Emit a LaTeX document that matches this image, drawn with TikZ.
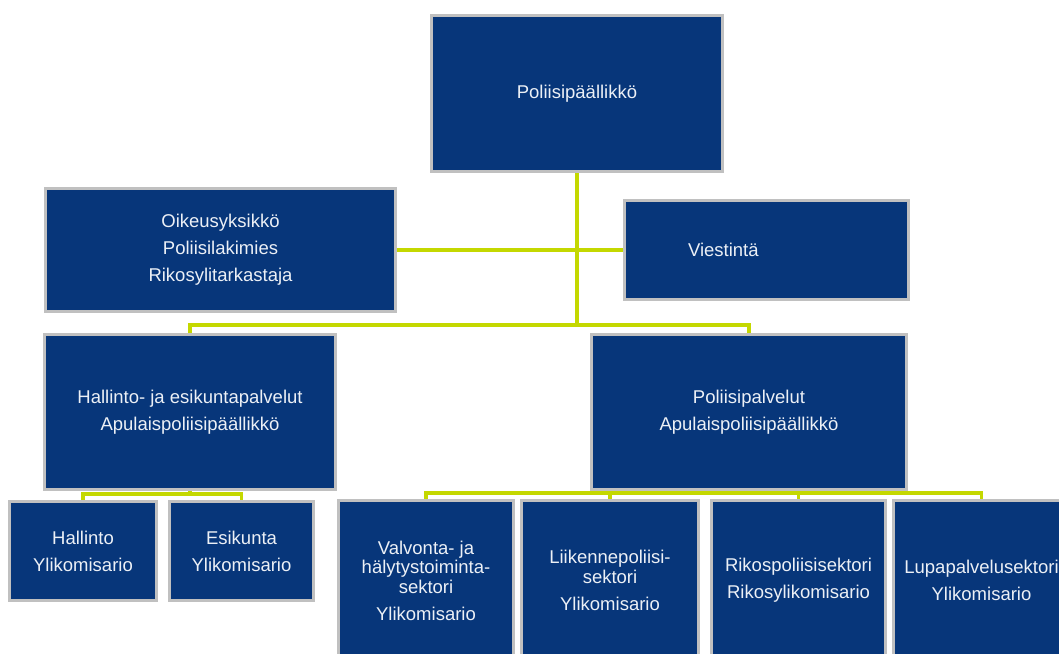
\documentclass[tikz,border=0pt]{standalone}
\usepackage{fontspec}
\setmainfont{Liberation Sans}
\usetikzlibrary{backgrounds}
\definecolor{unitblue}{RGB}{7,54,122}
\definecolor{unitedge}{RGB}{192,192,192}
\definecolor{linkgreen}{RGB}{196,216,0}
\definecolor{unittext}{RGB}{236,240,246}
\begin{document}
\begin{tikzpicture}[x=1pt,y=-1pt,
  unit/.style={draw=unitedge, line width=3pt, fill=unitblue, text=unittext,
    inner sep=0pt, outer sep=0pt, align=center,
    font=\fontsize{18.5}{27}\selectfont},
  conn/.style={draw=linkgreen, line width=3.5pt}]
\useasboundingbox (0,0) rectangle (1059,653);
\clip (0,0) rectangle (1059,653);

% top level
\node[unit, minimum width=291pt, minimum height=156pt] (chief) at (577,93.5) {Poliisipäällikkö};

% staff units
\node[unit, minimum width=350pt, minimum height=123pt] (legal) at (220.5,250)
  {Oikeusyksikkö\\Poliisilakimies\\Rikosylitarkastaja};
\node[unit, minimum width=284pt, minimum height=99pt, text width=157pt, align=left] (comms) at (766.5,250)
  {Viestintä};

% service lines
\node[unit, minimum width=291pt, minimum height=155pt] (admin) at (190,412)
  {Hallinto- ja esikuntapalvelut\\Apulaispoliisipäällikkö};
\node[unit, minimum width=315pt, minimum height=155pt] (police) at (749,412)
  {Poliisipalvelut\\Apulaispoliisipäällikkö};

% administration units
\node[unit, minimum width=147pt, minimum height=99pt] (hall) at (83,551)
  {Hallinto\\Ylikomisario};
\node[unit, minimum width=144pt, minimum height=99pt] (staff) at (241.5,551)
  {Esikunta\\Ylikomisario};

% police sectors
\node[unit, minimum width=175pt, minimum height=160pt] (patrol) at (426,580.5)
  {Valvonta- ja\\[-7.5pt]hälytystoiminta-\\[-7.5pt]sektori\\Ylikomisario};
\node[unit, minimum width=177pt, minimum height=160pt] (traffic) at (610,580.5)
  {Liikennepoliisi-\\[-7.5pt]sektori\\Ylikomisario};
\node[unit, minimum width=174pt, minimum height=160pt] (crime) at (798.5,580.5)
  {Rikospoliisisektori\\Rikosylikomisario};
\node[unit, minimum width=176pt, minimum height=160pt] (permit) at (981.5,580.5)
  {Lupapalvelusektori\\Ylikomisario};

% junction points of the connector buses
\coordinate (busTop) at (577,325);
\coordinate (busAdmin) at (190,494);
\coordinate (busPolice) at (749,493);

\begin{scope}[on background layer]
  \draw[conn] (chief.south) -- (busTop);
  \draw[conn] (legal.east) -- (comms.west);
  \draw[conn] (admin.north) |- (busTop) -| (police.north);
  \draw[conn] (admin.south) -- (busAdmin);
  \draw[conn] (hall.north) |- (busAdmin) -| (staff.north);
  \draw[conn] (police.south) -- (busPolice);
  \draw[conn] (patrol.north) |- (busPolice) -| (permit.north);
  \draw[conn] (traffic.north) -- (traffic.north |- busPolice);
  \draw[conn] (crime.north) -- (crime.north |- busPolice);
\end{scope}
\end{tikzpicture}
\end{document}
